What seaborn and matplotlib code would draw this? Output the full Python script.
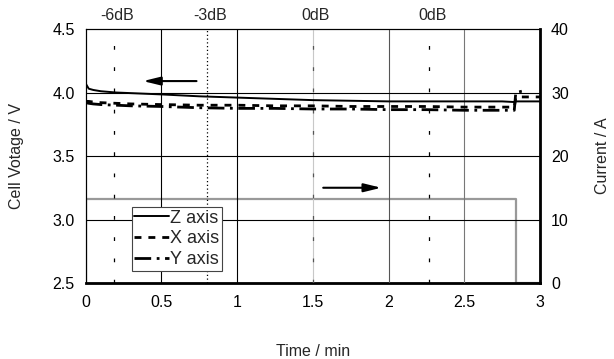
import numpy as np
import pandas as pd
import matplotlib
matplotlib.use("Agg")
import matplotlib.pyplot as plt
import seaborn as sns

# ---- data ----
time_min = [0.0, 0.02, 0.05, 0.1, 0.2, 0.3, 0.5, 0.75, 1.0, 1.25, 1.5, 1.75,
            2.0, 2.25, 2.5, 2.75, 2.83, 2.84, 2.88, 3.0]
z_axis = [4.07, 4.03, 4.02, 4.01, 4.0, 3.995, 3.985, 3.97, 3.96, 3.95, 3.94,
          3.935, 3.93, 3.93, 3.93, 3.93, 3.925, 3.93, 3.93, 3.93]
x_axis = [3.93, 3.93, 3.925, 3.92, 3.915, 3.91, 3.905, 3.90, 3.90, 3.895, 3.895,
          3.89, 3.89, 3.89, 3.885, 3.885, 3.885, 3.96, 3.965, 3.965]
y_axis = [3.92, 3.915, 3.91, 3.905, 3.90, 3.895, 3.89, 3.88, 3.875, 3.875, 3.87,
          3.87, 3.865, 3.865, 3.86, 3.86, 3.86, 4.0, 4.01, np.nan]

current_time = [0.0, 0.0, 2.84, 2.84, 3.0]
current_amp = [0.0, 13.2, 13.2, 0.0, 0.0]

events_t = [0.185, 0.8, 1.5, 2.27]
events_label = ["-6dB", "-3dB", "0dB", "0dB"]

x_ticks = [0, 0.5, 1, 1.5, 2, 2.5, 3]
x_ticklabels = ["0", "0.5", "1", "1.5", "2", "2.5", "3"]
v_ticks = [2.5, 3.0, 3.5, 4.0, 4.5]
v_ticklabels = ["2.5", "3.0", "3.5", "4.0", "4.5"]
i_ticks = [0, 10, 20, 30, 40]

FS = 11.5

# ---- style ----
sns.set_theme(style="white")
plt.rcParams["font.family"] = ["Liberation Sans", "DejaVu Sans"]
plt.rcParams["font.size"] = FS

fig = plt.figure(figsize=(6.14, 3.59), dpi=100)
ax = fig.add_axes([0.1396, 0.2117, 0.7399, 0.7075])
ax2 = ax.twinx()

df = pd.DataFrame({"t": time_min, "Z": z_axis, "X": x_axis, "Y": y_axis})

# grid
for gx, gc in zip([0.5, 1.0, 1.5, 2.0, 2.5], ["black", "black", "#c8c8c8", "#555555", "#777777"]):
    ax.axvline(gx, color=gc, lw=0.8, zorder=0)
for gy in [3.0, 3.5, 4.0]:
    ax.axhline(gy, color="black", lw=0.8, zorder=0)

# event lines
ev_styles = [(0, (3, 14)), (0, (1, 2)), (0, (3, 14)), (0, (3, 14))]
ev_colors = ["black", "black", "#555555", "black"]
for t, ls, c in zip(events_t, ev_styles, ev_colors):
    ax.axvline(t, color=c, lw=0.9, linestyle=ls, zorder=1)

# current on right axis
sns.lineplot(x=current_time, y=current_amp, ax=ax2, color="#999999", lw=1.6,
             estimator=None, sort=False, legend=False)

sns.lineplot(data=df, x="t", y="Z", ax=ax, color="black", lw=1.4,
             estimator=None, sort=False, label="Z axis")
sns.lineplot(data=df, x="t", y="X", ax=ax, color="black", lw=2.0,
             linestyle=(0, (2.5, 2.5)), estimator=None, sort=False, label="X axis")
sns.lineplot(data=df, x="t", y="Y", ax=ax, color="black", lw=2.0,
             linestyle=(0, (6, 2, 1, 2)), estimator=None, sort=False, label="Y axis")

ax.set_zorder(ax2.get_zorder() + 1)
ax.patch.set_visible(False)

ax.set_xlim(0, 3)
ax.set_ylim(2.5, 4.5)
ax2.set_ylim(0, 40)
ax.set_xticks(x_ticks)
ax.set_xticklabels(x_ticklabels)
ax.set_yticks(v_ticks)
ax.set_yticklabels(v_ticklabels)
ax.tick_params(axis="y", length=0, pad=8, labelsize=FS, colors="black")
ax.tick_params(axis="x", length=0, pad=9, labelsize=FS, colors="black")
ax2.tick_params(length=0, pad=8, labelsize=FS, colors="black")

ax.set_xlabel("Time / min", fontsize=FS, labelpad=24)
ax.set_ylabel("Cell Votage / V", fontsize=FS, labelpad=20)
ax2.set_ylabel("Current / A", fontsize=FS, labelpad=19)

for a in (ax, ax2):
    for s in a.spines.values():
        s.set_color("black")
        s.set_linewidth(0.8)
ax2.spines["right"].set_linewidth(2.0)
ax2.spines["bottom"].set_linewidth(2.0)

# event labels
for t, lab in zip(events_t, events_label):
    ax.text(t + 0.02, 4.5 + 0.11, lab, ha="center", va="center", fontsize=FS)

# arrows
ax.annotate("", xy=(0.36, 4.09), xytext=(0.75, 4.09),
            arrowprops=dict(arrowstyle="-|>,head_length=0.9,head_width=0.22", color="black", lw=1.5))
ax2.annotate("", xy=(1.97, 15.0), xytext=(1.55, 15.0),
             arrowprops=dict(arrowstyle="-|>,head_length=0.9,head_width=0.22", color="black", lw=1.5))

leg = ax.legend(loc="upper left", bbox_to_anchor=(0.101, 0.30), frameon=True, fancybox=False,
                edgecolor="#444444", framealpha=1, handlelength=1.9, handletextpad=0.1,
                borderpad=0.15, labelspacing=0.22, fontsize=13, borderaxespad=0)
leg.get_frame().set_linewidth(0.8)

fig.savefig("out.png", dpi=100)
